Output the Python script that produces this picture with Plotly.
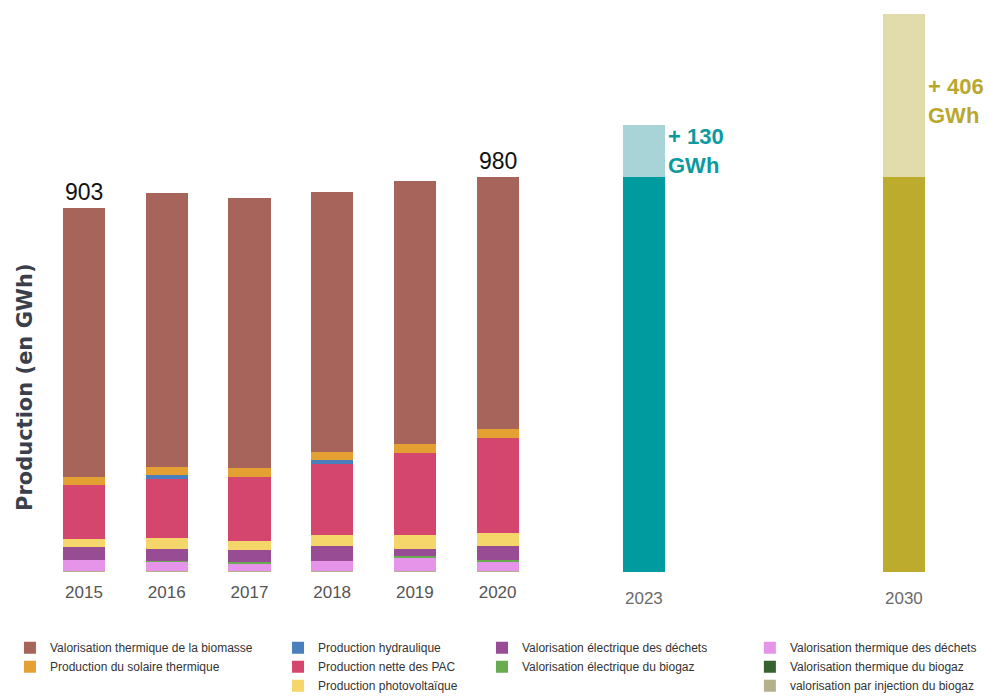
import plotly.graph_objects as go

years = ["2015", "2016", "2017", "2018", "2019", "2020"]

# Stack components (GWh), bottom to top
injection_biogaz = [2, 2, 2, 2, 2, 2]
thermique_dechets = [29, 23, 18, 25, 34, 25]
thermique_biogaz = [0, 0, 0, 0, 0, 0]
electrique_biogaz = [0, 3, 4, 0, 4, 4]
electrique_dechets = [30, 30, 30, 38, 18, 34]
photovoltaique = [22, 26, 22, 26, 33, 33]
pac = [134, 146, 160, 178, 205, 235]
hydraulique = [0, 11, 0, 8, 0, 0]
solaire_thermique = [18, 19, 23, 22, 22, 22]
biomasse = [668, 681, 671, 646, 654, 625]

total_labels = {"2015": "903", "2020": "980"}

obj_years = ["2023", "2030"]
obj_base = [980, 980]
obj_increase = [130, 406]
obj_increase_labels = ["+ 130<br>GWh", "+ 406<br>GWh"]

# layout positions (slot units along x axis)
hist_pos = [0, 1, 2, 3, 4, 5]
obj_pos = [6.77, 9.915]

series = [
    ("valorisation par injection du biogaz", injection_biogaz, "#b5b08c", "legend4"),
    ("Valorisation thermique des déchets", thermique_dechets, "#e594ea", "legend4"),
    ("Valorisation thermique du biogaz", thermique_biogaz, "#386130", "legend4"),
    ("Valorisation électrique du biogaz", electrique_biogaz, "#69ab50", "legend3"),
    ("Valorisation électrique des déchets", electrique_dechets, "#984c93", "legend3"),
    ("Production photovoltaïque", photovoltaique, "#f5d66b", "legend2"),
    ("Production nette des PAC", pac, "#d4466e", "legend2"),
    ("Production hydraulique", hydraulique, "#4a7fbe", "legend2"),
    ("Production du solaire thermique", solaire_thermique, "#e5a034", "legend"),
    ("Valorisation thermique de la biomasse", biomasse, "#a6645b", "legend"),
]

legend_rank = {
    "Valorisation thermique de la biomasse": 1,
    "Production du solaire thermique": 2,
    "Production hydraulique": 1,
    "Production nette des PAC": 2,
    "Production photovoltaïque": 3,
    "Valorisation électrique des déchets": 1,
    "Valorisation électrique du biogaz": 2,
    "Valorisation thermique des déchets": 1,
    "Valorisation thermique du biogaz": 2,
    "valorisation par injection du biogaz": 3,
}

BW = 0.51
fig = go.Figure()
for name, vals, color, lg in series:
    fig.add_trace(go.Bar(
        x=hist_pos, y=vals, name=name, marker=dict(color=color, line=dict(width=0)),
        width=BW, legend=lg, legendrank=legend_rank[name], hoverinfo="name+y",
    ))

# objectives
fig.add_trace(go.Bar(x=[obj_pos[0]], y=[obj_base[0]], marker=dict(color="#009b9e", line=dict(width=0)),
                     width=BW, showlegend=False))
fig.add_trace(go.Bar(x=[obj_pos[0]], y=[obj_increase[0]], marker=dict(color="#a8d3d7", line=dict(width=0)),
                     width=BW, showlegend=False))
fig.add_trace(go.Bar(x=[obj_pos[1]], y=[obj_base[1]], marker=dict(color="#bcab2c", line=dict(width=0)),
                     width=BW, showlegend=False))
fig.add_trace(go.Bar(x=[obj_pos[1]], y=[obj_increase[1]], marker=dict(color="#e2dbab", line=dict(width=0)),
                     width=BW, showlegend=False))

totals = [sum(s[1][i] for s in series) for i in range(len(years))]
annotations = []
for i, yr in enumerate(years):
    if yr in total_labels:
        annotations.append(dict(x=hist_pos[i], y=totals[i], text=total_labels[yr], showarrow=False,
                                yanchor="bottom", yshift=1,
                                font=dict(family="Liberation Sans, Arial", size=23, color="#111111")))

inc_colors = ["#0d9a9d", "#b9a82e"]
inc_frac = [0.5, 0.535]
for j in range(2):
    top = obj_base[j] + obj_increase[j]
    annotations.append(dict(x=obj_pos[j] + BW / 2, y=top - inc_frac[j] * obj_increase[j],
                            text=f"<b>{obj_increase_labels[j]}</b>", showarrow=False,
                            xanchor="left", align="left", xshift=1,
                            font=dict(family="Liberation Sans, Arial", size=22, color=inc_colors[j])))
    annotations.append(dict(x=obj_pos[j], y=0, text=obj_years[j], showarrow=False, yanchor="top", yshift=-15,
                            font=dict(family="Liberation Sans, Arial", size=17, color="#6a6a6a")))

annotations.append(dict(xref="paper", yref="paper", x=(25 - 40) / 939, y=(572 - 387) / 562,
                        xanchor="center", yanchor="middle",
                        text="<b>Production (en GWh)</b>", textangle=-90, showarrow=False,
                        font=dict(family="DejaVu Sans", size=21, color="#3b3f4b")))

legend_font = dict(family="Liberation Sans Narrow, Arial Narrow, Liberation Sans", size=12, color="#333333")
def leg(x):
    return dict(x=x, y=-0.109, xref="paper", yref="paper", xanchor="left", yanchor="top",
                orientation="v", font=legend_font, bgcolor="rgba(0,0,0,0)", tracegroupgap=0,
                itemwidth=30, traceorder="normal")

fig.update_layout(
    width=989, height=696,
    margin=dict(l=40, r=10, t=10, b=124, autoexpand=False),
    barmode="stack",
    bargap=0,
    plot_bgcolor="white", paper_bgcolor="white",
    xaxis=dict(range=[-0.532, 10.82], tickvals=hist_pos, ticktext=years, showgrid=False, zeroline=False,
               showline=False, ticks="", ticklabelstandoff=8,
               tickfont=dict(family="Liberation Sans, Arial", size=17, color="#555555")),
    yaxis=dict(range=[0, 1396], visible=False, showgrid=False),
    legend=leg(-0.032),
    legend2=leg(0.2535),
    legend3=leg(0.4707),
    legend4=leg(0.756),
    annotations=annotations,
    showlegend=True,
)

fig.write_html("out.html", config={"displayModeBar": False},
               post_script="document.body.style.margin='0';document.body.style.overflow='hidden';")
